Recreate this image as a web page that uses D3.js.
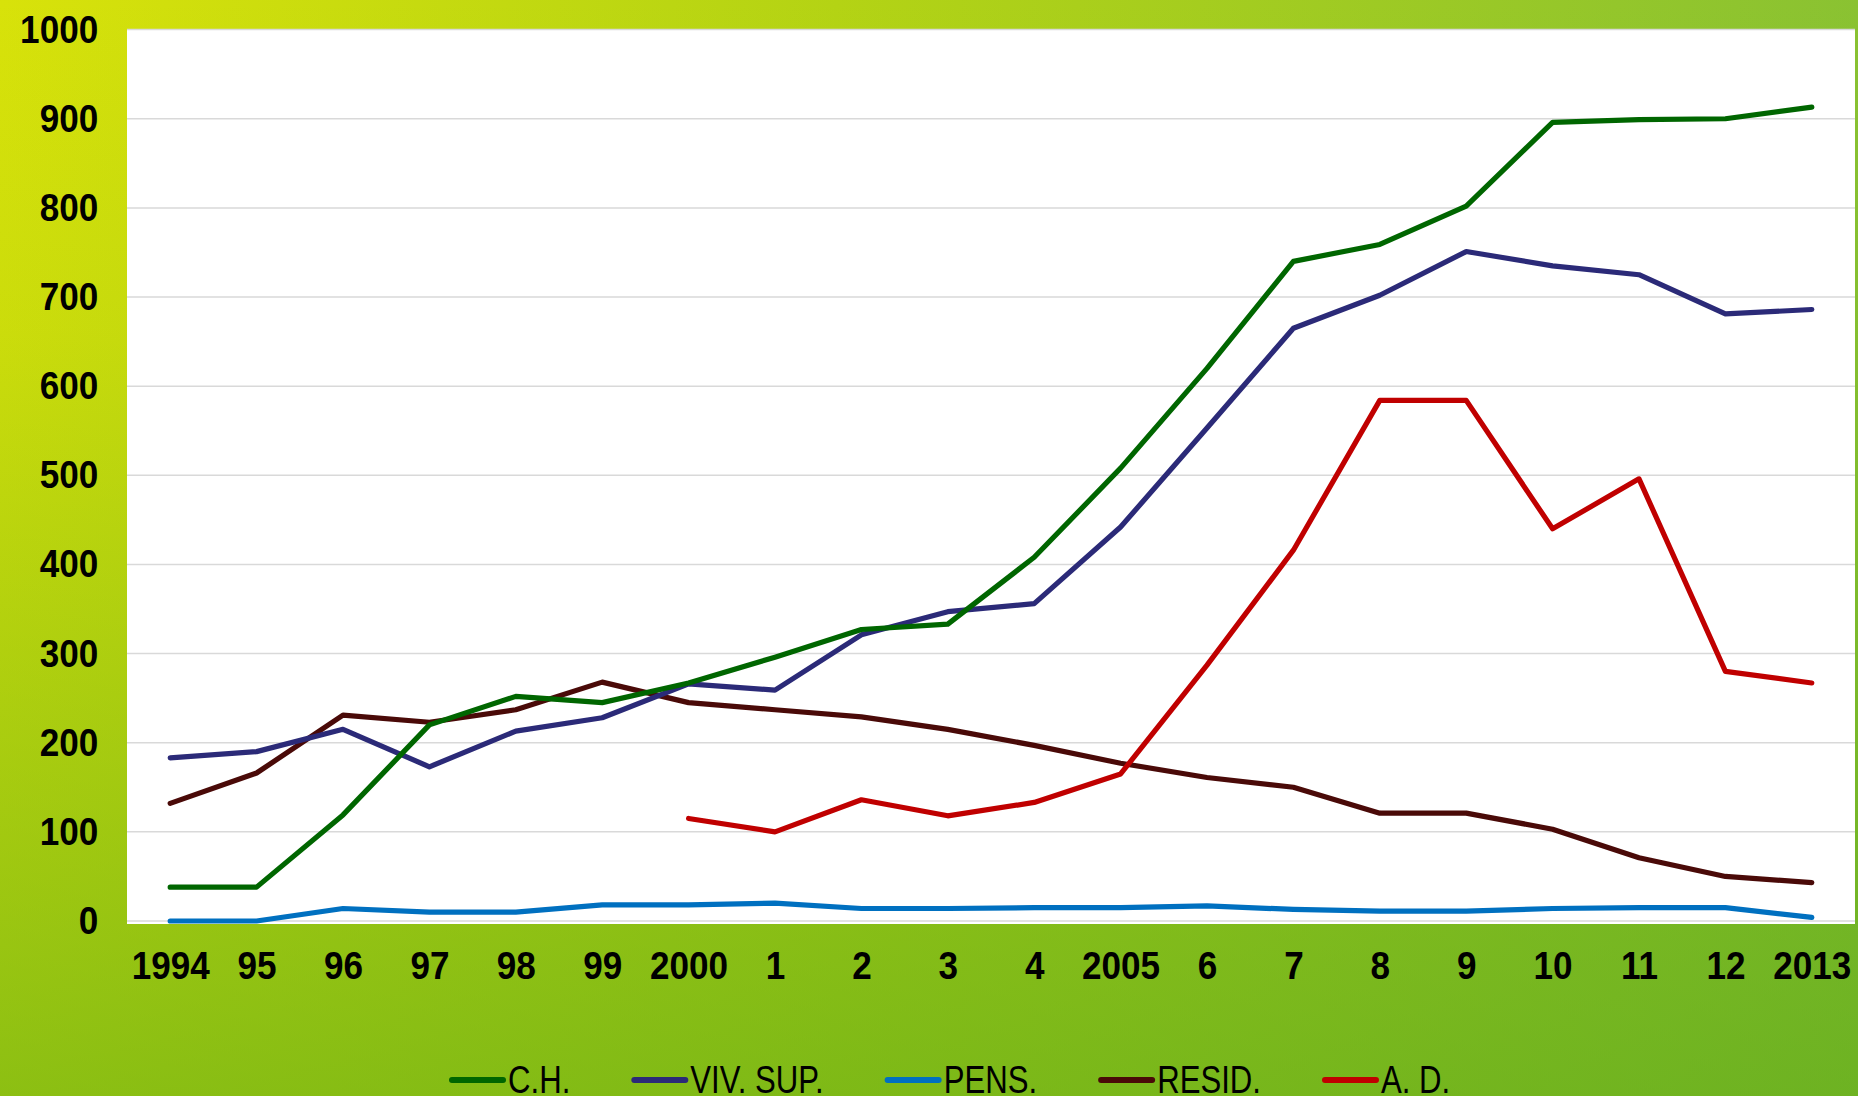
<!DOCTYPE html>
<html>
<head>
<meta charset="utf-8">
<script src="https://cdn.jsdelivr.net/npm/d3@7"></script>
<style>
  body { margin: 0; overflow: hidden; }
  text { font-family: "Liberation Sans", Arial, sans-serif; fill: #000; }
</style>
</head>
<body>
<script>
const w = 1858
const h = 1096

// Category labels on the x axis
const years = ["1994", "95", "96", "97", "98", "99", "2000", "1", "2", "3", "4", "2005", "6", "7", "8", "9", "10", "11", "12", "2013"]

// Series values
const ch    = [38, 38, 119, 220, 252, 245, 267, 296, 327, 333, 408, 508, 620, 740, 759, 802, 896, 899, 900, 913]
const viv   = [183, 190, 215, 173, 213, 228, 266, 259, 321, 347, 356, 442, 553, 665, 702, 751, 735, 725, 681, 686]
const pens  = [0, 0, 14, 10, 10, 18, 18, 20, 14, 14, 15, 15, 17, 13, 11, 11, 14, 15, 15, 4]
const resid = [132, 166, 231, 223, 237, 268, 245, 237, 229, 215, 197, 177, 161, 150, 121, 121, 103, 71, 50, 43]
const ad    = [null, null, null, null, null, null, 115, 100, 136, 118, 133, 165, 287, 416, 584, 584, 440, 496, 280, 267]

const seriesNames = ["C.H.", "VIV. SUP.", "PENS.", "RESID.", "A. D."]
const seriesValues = [ch, viv, pens, resid, ad]
const colors = ["#006600", "#2b2a78", "#0070c0", "#4a0a08", "#c00000"]

const yTicks = [0, 100, 200, 300, 400, 500, 600, 700, 800, 900, 1000]

// plot area
const plotLeft = 127, plotRight = 1855, plotTop = 29.6, zeroY = 921

const svg = d3.select("body")
              .append("svg")
              .attr("width", w)
              .attr("height", h)

const defs = svg.append("defs")

const bg = defs.append("linearGradient")
               .attr("id", "bg")
               .attr("x1", 0).attr("y1", 0).attr("x2", 1).attr("y2", 0)
bg.append("stop").attr("offset", "0%").attr("stop-color", "#d8e20a")
bg.append("stop").attr("offset", "45%").attr("stop-color", "#b4d314")
bg.append("stop").attr("offset", "100%").attr("stop-color", "#8ac232")

const shade = defs.append("linearGradient")
                  .attr("id", "shade")
                  .attr("x1", 0).attr("y1", 0).attr("x2", 0).attr("y2", 1)
shade.append("stop").attr("offset", "0%").attr("stop-color", "#5aa818").attr("stop-opacity", 0)
shade.append("stop").attr("offset", "30%").attr("stop-color", "#5aa818").attr("stop-opacity", 0.1)
shade.append("stop").attr("offset", "100%").attr("stop-color", "#5aa818").attr("stop-opacity", 0.6)

svg.append("rect").attr("width", w).attr("height", h).attr("fill", "url(#bg)")
svg.append("rect").attr("width", w).attr("height", h).attr("fill", "url(#shade)")

// white plot background
svg.append("rect")
   .attr("x", plotLeft)
   .attr("y", plotTop)
   .attr("width", plotRight - plotLeft)
   .attr("height", 924 - plotTop)
   .attr("fill", "#fff")

const xScale = d3.scalePoint()
                 .domain(years)
                 .range([plotLeft, plotRight])
                 .padding(0.5)

const yScale = d3.scaleLinear()
                 .domain([0, 1000])
                 .range([zeroY, plotTop])

// Gridlines
svg.append("g")
   .selectAll("line")
   .data(yTicks)
   .enter()
   .append("line")
   .attr("x1", plotLeft)
   .attr("x2", plotRight)
   .attr("y1", d => yScale(d))
   .attr("y2", d => yScale(d))
   .attr("stroke", "#d9d9d9")
   .attr("stroke-width", 1.5)

// Y axis labels
const yAxis = svg.append("g")
                 .attr("transform", `translate(${plotLeft}, 0)`)
                 .call(d3.axisLeft(yScale).tickValues(yTicks).tickFormat(d3.format("d")).tickSize(0).tickPadding(32))
yAxis.select(".domain").remove()
yAxis.selectAll("text")
     .attr("font-size", 39)
     .attr("font-weight", "bold")
     .attr("font-family", "Liberation Sans, Arial, sans-serif")
     .attr("transform", "scale(0.9,1)")

// X axis labels
const xAxis = svg.append("g")
                 .attr("transform", `translate(0, ${zeroY})`)
                 .call(d3.axisBottom(xScale).tickSize(0))
xAxis.select(".domain").remove()
xAxis.selectAll("text")
     .attr("y", 44)
     .attr("dy", "0.35em")
     .attr("font-size", 39)
     .attr("font-weight", "bold")
     .attr("font-family", "Liberation Sans, Arial, sans-serif")
     .attr("transform", "scale(0.9,1)")

// Series lines
const line = d3.line()
               .defined(d => d.value !== null)
               .x(d => xScale(d.year))
               .y(d => yScale(d.value))

const order = [2, 3, 1, 0, 4]
order.forEach(i => {
  const pts = years.map((year, j) => ({ year: year, value: seriesValues[i][j] }))
  svg.append("path")
     .datum(pts)
     .attr("fill", "none")
     .attr("stroke", colors[i])
     .attr("stroke-width", 5.2)
     .attr("stroke-linejoin", "round")
     .attr("stroke-linecap", "round")
     .attr("d", line)
})

// Legend
const legend = svg.append("g").attr("id", "legend")
let lx = 449
seriesNames.forEach((name, i) => {
  const item = legend.append("g").attr("transform", `translate(${lx}, 0)`)
  item.append("line")
      .attr("x1", 3).attr("x2", 54)
      .attr("y1", 1080).attr("y2", 1080)
      .attr("stroke", colors[i])
      .attr("stroke-width", 6)
      .attr("stroke-linecap", "round")
  const t = item.append("text")
                .text(name)
                .attr("font-size", 38)
                .attr("transform", "translate(59, 1093) scale(0.82,1)")
  lx += 59 + t.node().getComputedTextLength() * 0.82 + 61
})
</script>
</body>
</html>
